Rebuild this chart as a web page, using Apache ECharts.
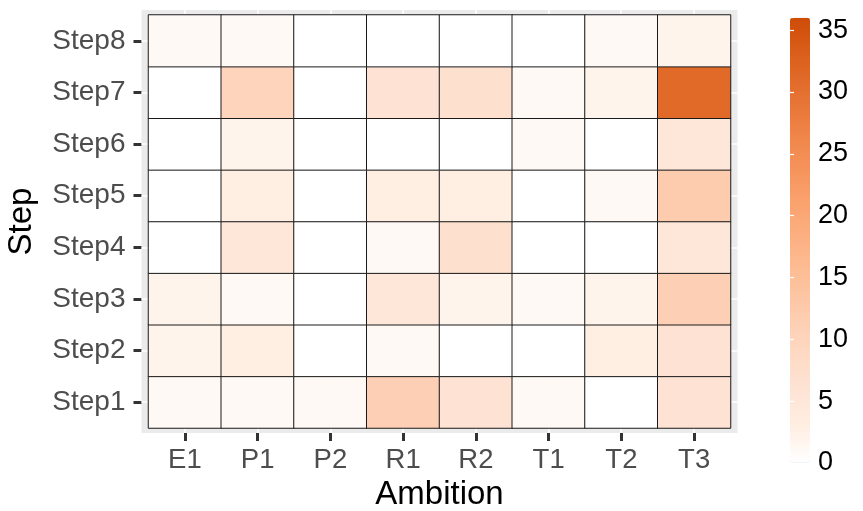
<!DOCTYPE html>
<html>
<head>
<meta charset="utf-8">
<script src="https://cdn.jsdelivr.net/npm/echarts@6/dist/echarts.min.js"></script>
<style>
html,body{margin:0;padding:0;background:#fff;}
#chart{width:863px;height:511px;}
</style>
</head>
<body>
<div id="chart"></div>
<script>
// Categories
const ambitions = ['E1', 'P1', 'P2', 'R1', 'R2', 'T1', 'T2', 'T3'];
const steps = ['Step1', 'Step2', 'Step3', 'Step4', 'Step5', 'Step6', 'Step7', 'Step8'];
// Values per step, in the order of ambitions
const step1 = [1, 1, 1, 11, 6, 1, 0, 6];
const step2 = [2, 3, 0, 1, 0, 0, 3, 6];
const step3 = [2, 1, 0, 5, 2, 1, 2, 11];
const step4 = [0, 5, 0, 1, 7, 0, 0, 5];
const step5 = [0, 3, 0, 3, 3, 0, 1, 12];
const step6 = [0, 2, 0, 0, 0, 1, 0, 5];
const step7 = [0, 10, 0, 6, 7, 1, 2, 31];
const step8 = [1, 1, 0, 0, 0, 0, 1, 2];
// Colour scale
const scaleMin = 0;
const scaleMax = 36;
const legendTicks = [0, 5, 10, 15, 20, 25, 30, 35];

const rows = [step1, step2, step3, step4, step5, step6, step7, step8];
const heatData = [];
rows.forEach((row, yi) => row.forEach((v, xi) => heatData.push([xi, yi, v])));

const FONT = "'Liberation Sans', Arial, sans-serif";
const chart = echarts.init(document.getElementById('chart'), null, {renderer: 'canvas'});

const gridLines = [];
ambitions.forEach((_, i) => gridLines.push({xAxis: i}));
steps.forEach((_, i) => gridLines.push({yAxis: i}));

chart.setOption({
  animation: false,
  backgroundColor: '#ffffff',
  grid: [
    {left: 141.5, right: 125.5, top: 10, bottom: 78, show: true, backgroundColor: '#EBEBEB', borderWidth: 0, containLabel: false, outerBoundsMode: 'none'},
    {left: 148.5, right: 132.5, top: 15, bottom: 83, show: false, containLabel: false, outerBoundsMode: 'none'},
    {left: 790, width: 20, top: 17.7, bottom: 48, show: false, containLabel: false, outerBoundsMode: 'none'}
  ],
  xAxis: [
    {gridIndex: 0, type: 'value', min: -0.6, max: 7.6, show: false},
    {gridIndex: 1, type: 'category', data: ambitions, offset: 5,
     axisLine: {show: false},
     axisTick: {show: true, alignWithLabel: true, length: 8, lineStyle: {color: '#333333', width: 3}},
     axisLabel: {color: '#4D4D4D', fontSize: 27.5, fontFamily: FONT, margin: 13},
     splitLine: {show: false},
     name: 'Ambition', nameLocation: 'middle', nameGap: 45,
     nameTextStyle: {color: '#000', fontSize: 33, fontFamily: FONT}},
    {gridIndex: 2, type: 'value', show: false, min: 0, max: 1}
  ],
  yAxis: [
    {gridIndex: 0, type: 'value', min: -0.6, max: 7.6, show: false},
    {gridIndex: 1, type: 'category', data: steps, offset: 7,
     axisLine: {show: false},
     axisTick: {show: true, alignWithLabel: true, length: 8, lineStyle: {color: '#333333', width: 3}},
     axisLabel: {color: '#4D4D4D', fontSize: 28, fontFamily: FONT, margin: 16},
     splitLine: {show: false},
     name: 'Step', nameLocation: 'middle', nameGap: 103, nameRotate: 90,
     nameTextStyle: {color: '#000', fontSize: 33, fontFamily: FONT}},
    {gridIndex: 2, type: 'value', position: 'right', min: scaleMin, max: scaleMax, interval: 5,
     axisLine: {show: false},
     axisTick: {show: true, inside: true, length: 4, lineStyle: {color: '#ffffff', width: 1.2}},
     axisLabel: {color: '#000', fontSize: 27, fontFamily: FONT, margin: 8,
       formatter: v => legendTicks.includes(v) ? String(v) : ''},
     splitLine: {show: false}, z: 10},
    {gridIndex: 2, type: 'value', position: 'left', min: scaleMin, max: scaleMax, interval: 5,
     axisLine: {show: false},
     axisTick: {show: true, inside: true, length: 4, lineStyle: {color: '#ffffff', width: 1.2}},
     axisLabel: {show: false}, splitLine: {show: false}, z: 10}
  ],
  visualMap: {
    type: 'continuous', seriesIndex: 1, min: scaleMin, max: scaleMax,
    calculable: false, show: true, orient: 'vertical',
    left: 790, top: 17.7, itemWidth: 20, itemHeight: 445, padding: 0,
    text: null, showLabel: false, hoverLink: false,
    inRange: {color: ['#FFFFFF', '#FFEEE2', '#FEE3D4', '#FED9C3', '#FDCCAE', '#FDBF98', '#FCB184',
                      '#FBA26F', '#F5925A', '#EE8245', '#E46F30', '#DB5F1C', '#CE4C06']}
  },
  series: [
    {type: 'line', xAxisIndex: 0, yAxisIndex: 0, data: [], silent: true,
     markLine: {silent: true, symbol: 'none', label: {show: false},
       lineStyle: {color: '#ffffff', width: 1.5, type: 'solid'}, data: gridLines}},
    {type: 'heatmap', xAxisIndex: 1, yAxisIndex: 1, data: heatData,
     itemStyle: {borderColor: '#1a1a1a', borderWidth: 1},
     label: {show: false}, emphasis: {disabled: true}, z: 5}
  ]
});
</script>
</body>
</html>
